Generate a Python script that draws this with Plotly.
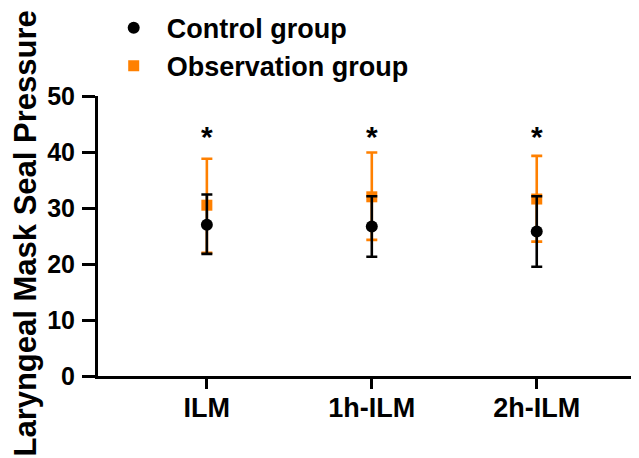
import plotly.graph_objects as go

categories = ["ILM", "1h-ILM", "2h-ILM"]
x_pos = [0, 1, 2]

control_mean = [27.0, 26.7, 25.8]
control_upper = [32.4, 32.1, 32.1]
control_lower = [21.8, 21.3, 19.5]

obs_mean = [30.5, 32.0, 31.6]
obs_upper = [38.8, 39.9, 39.3]
obs_lower = [22.0, 24.3, 24.0]

sig_marks = ["*", "*", "*"]
sig_y = [42.8, 42.8, 42.8]

y_ticks = [0, 10, 20, 30, 40, 50]

BLACK = "#000000"
ORANGE = "#FF8000"
FONT = "Liberation Sans, Arial, sans-serif"

fig = go.Figure()

fig.add_trace(go.Scatter(
    x=x_pos, y=obs_mean, mode="markers", name="<b>Observation group</b>",
    marker=dict(symbol="square", size=11, color=ORANGE),
    error_y=dict(type="data", symmetric=False,
                 array=[u - m for u, m in zip(obs_upper, obs_mean)],
                 arrayminus=[m - l for m, l in zip(obs_mean, obs_lower)],
                 color=ORANGE, thickness=2.6, width=5.5),
    legendgroup="b",
))
fig.add_trace(go.Scatter(
    x=x_pos, y=control_mean, mode="markers", name="<b>Control group</b>",
    marker=dict(symbol="circle", size=12, color=BLACK),
    error_y=dict(type="data", symmetric=False,
                 array=[u - m for u, m in zip(control_upper, control_mean)],
                 arrayminus=[m - l for m, l in zip(control_mean, control_lower)],
                 color=BLACK, thickness=2.6, width=5.5),
    legendgroup="a",
))

for xi, yi, s in zip(x_pos, sig_y, sig_marks):
    fig.add_annotation(x=xi, y=yi, xref="x", yref="y", text="<b>%s</b>" % s,
                       showarrow=False, yanchor="middle",
                       font=dict(size=30, color=BLACK, family=FONT))

fig.add_annotation(x=-0.134, y=0.507, xref="paper", yref="paper",
                   text="<b>Laryngeal Mask Seal Pressure</b>", textangle=-90,
                   showarrow=False, xanchor="center", yanchor="middle",
                   font=dict(size=31, color=BLACK, family=FONT))

fig.update_layout(
    width=631, height=450,
    margin=dict(l=90, r=0, t=88, b=82, autoexpand=False),
    paper_bgcolor="white", plot_bgcolor="white",
    font=dict(family=FONT, color=BLACK),
    showlegend=True,
    legend=dict(x=0.005, y=1.33, xref="paper", yref="paper",
                xanchor="left", yanchor="top",
                traceorder="reversed", tracegroupgap=5,
                font=dict(size=27, color=BLACK, family=FONT),
                itemwidth=56, bgcolor="rgba(0,0,0,0)"),
    xaxis=dict(range=[-0.66, 2.62], tickvals=x_pos,
               ticktext=["<b>%s</b>" % c for c in categories],
               showline=True, linecolor=BLACK, linewidth=3,
               ticks="outside", ticklen=10, tickwidth=3, tickcolor=BLACK,
               ticklabelstandoff=-4,
               showgrid=False, zeroline=False,
               tickfont=dict(size=27, color=BLACK, family=FONT)),
    yaxis=dict(range=[0, 50], tickvals=y_ticks,
               ticktext=["<b>%d</b>" % v for v in y_ticks],
               showline=True, linecolor=BLACK, linewidth=3,
               ticks="outside", ticklen=13, tickwidth=3, tickcolor=BLACK,
               ticklabelstandoff=2,
               showgrid=False, zeroline=False,
               tickfont=dict(size=25, color=BLACK, family=FONT)),
)

fig.write_html("out.html")
